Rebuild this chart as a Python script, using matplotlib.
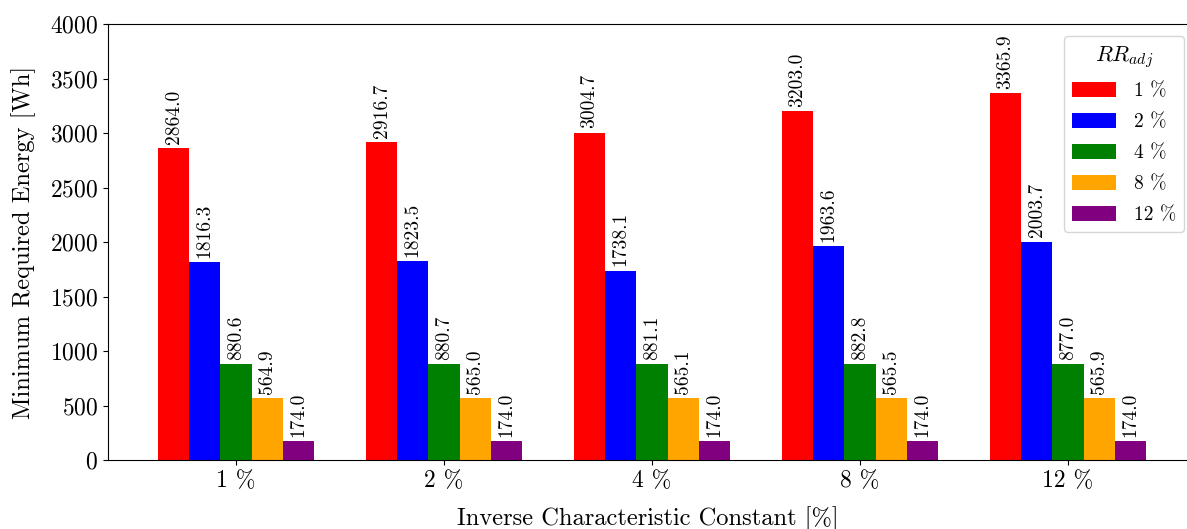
import numpy as np
import matplotlib
matplotlib.use("Agg")
from matplotlib import pyplot as plt

plt.rcParams['font.family'] = 'serif'
plt.rcParams['font.serif'] = ['cmr10']
plt.rcParams['mathtext.fontset'] = 'cm'
plt.rcParams['axes.formatter.use_mathtext'] = True

# constante caracteristique inverse (groupes)
groupes = ["1 %", "2 %", "4 %", "8 %", "12 %"]
# RR_adj (series)
series = ["1 %", "2 %", "4 %", "8 %", "12 %"]
couleurs = ["red", "blue", "green", "orange", "purple"]

energie_rr1 = [2864.0, 2916.7, 3004.7, 3203.0, 3365.9]
energie_rr2 = [1816.3, 1823.5, 1738.1, 1963.6, 2003.7]
energie_rr4 = [880.6, 880.7, 881.1, 882.8, 877.0]
energie_rr8 = [564.9, 565.0, 565.1, 565.5, 565.9]
energie_rr12 = [174.0, 174.0, 174.0, 174.0, 174.0]
energies = [energie_rr1, energie_rr2, energie_rr4, energie_rr8, energie_rr12]

fig = plt.figure(figsize=(11.87, 5.29), dpi=100)
ax = fig.add_axes([0.091, 0.1304, 0.909, 0.8242])

x = np.arange(len(groupes))
largeur = 0.15
for i in range(len(series)):
    barres = ax.bar(x + (i - 2) * largeur, energies[i], largeur,
                    color=couleurs[i], label=series[i])
    ax.bar_label(barres, fmt="%.1f", rotation=90, padding=3, fontsize=14)

ax.set_xlim(-0.615, 4.572)
ax.set_ylim(0, 4000)
ax.set_xticks(x)
ax.set_xticklabels(groupes, fontsize=17)
ax.tick_params(axis='y', labelsize=17)
ax.set_xlabel("Inverse Characteristic Constant [%]", fontsize=17.6, labelpad=10)
ax.set_ylabel("Minimum Required Energy [Wh]", fontsize=17.7, labelpad=10)
ax.spines['right'].set_visible(False)

leg = ax.legend(title=r"$RR_{adj}$", loc="upper right", fontsize=14,
                title_fontsize=16, handlelength=2.3, handleheight=0.8,
                handletextpad=0.9, labelspacing=0.65, borderaxespad=0,
                bbox_to_anchor=(1184 / 1187, (529 - 36) / 529),
                bbox_transform=fig.transFigure)

fig.savefig("out.png", dpi=100)
